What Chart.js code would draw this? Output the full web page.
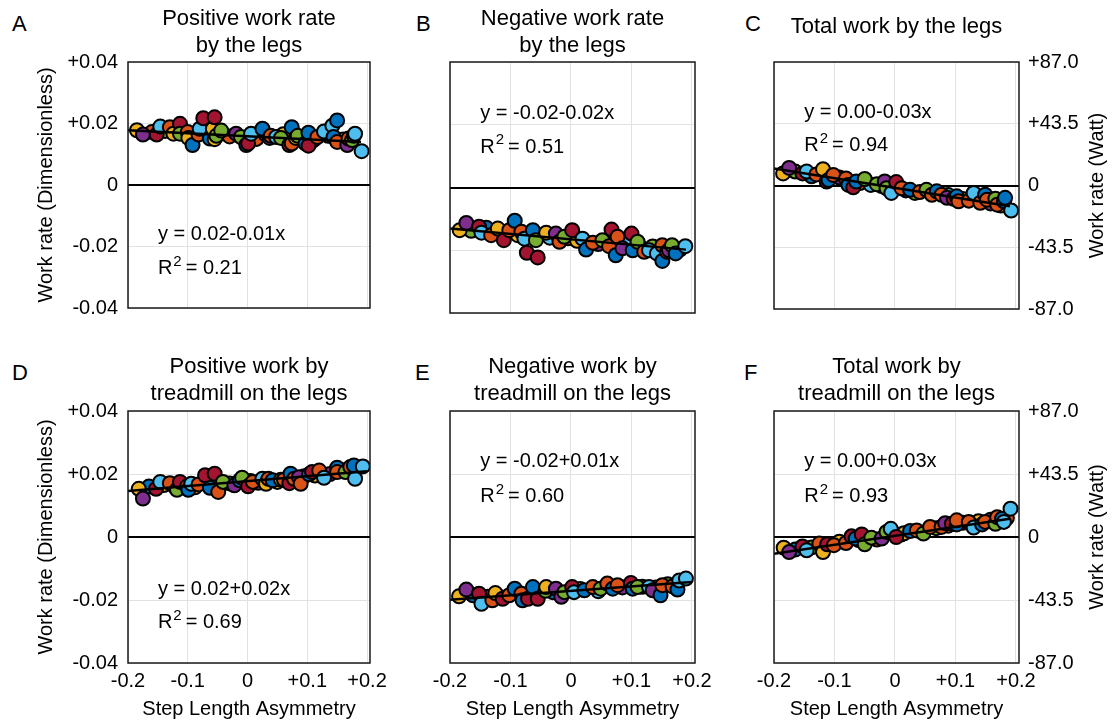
<!DOCTYPE html>
<html>
<head>
<meta charset="utf-8">
<title>Work rate vs step length asymmetry</title>
<script src="https://cdn.jsdelivr.net/npm/chart.js@4.4.1/dist/chart.umd.min.js"></script>
<style>
  body { margin: 0; width: 1112px; height: 721px; background: #fff; position: relative; overflow: hidden;
         font-family: "Liberation Sans", Arial, Helvetica, sans-serif; }
  canvas { position: absolute; }
  .tag { position: absolute; font-size: 22px; line-height: 22px; color: #000; }
</style>
</head>
<body>
<div class="tag" style="left:12px;top:13px">A</div>
<div class="tag" style="left:416px;top:13px">B</div>
<div class="tag" style="left:745px;top:13px">C</div>
<div class="tag" style="left:12px;top:362px">D</div>
<div class="tag" style="left:415px;top:362px">E</div>
<div class="tag" style="left:744px;top:362px">F</div>

<canvas id="cA" width="400" height="330" style="left:0px;top:0px"></canvas>
<canvas id="cB" width="330" height="330" style="left:400px;top:0px"></canvas>
<canvas id="cC" width="382" height="330" style="left:730px;top:0px"></canvas>
<canvas id="cD" width="400" height="371" style="left:0px;top:350px"></canvas>
<canvas id="cE" width="330" height="371" style="left:400px;top:350px"></canvas>
<canvas id="cF" width="382" height="371" style="left:730px;top:350px"></canvas>

<script>
// subject colours (MATLAB default order)
const palette = ['#0072BD', '#D95319', '#EDB120', '#7E2F8E', '#77AC30', '#4DBEEE', '#A2142F'];

const xTicks = [-0.2, -0.1, 0, 0.1, 0.2];
const yTicks = [-0.04, -0.02, 0, 0.02, 0.04];
const wattTicks = [-87, -43.5, 0, 43.5, 87];

// [step length asymmetry, work rate (dimensionless), subject]
const ptsA = [
  [-0.160, 0.0172, 1], [-0.138, 0.0176, 4], [-0.120, 0.0181, 3], [-0.090, 0.0158, 4], [-0.070, 0.0173, 5],
  [-0.046, 0.0166, 3], [-0.030, 0.0158, 1], [0.015, 0.0150, 1], [0.030, 0.0165, 4], [0.060, 0.0165, 2],
  [0.090, 0.0150, 5], [0.110, 0.0145, 3], [0.135, 0.0160, 1], [0.160, 0.0148, 2],
  [-0.185, 0.0178, 2], [-0.175, 0.0164, 3], [-0.152, 0.0164, 6], [-0.146, 0.0190, 5], [-0.130, 0.0188, 1],
  [-0.124, 0.0167, 2], [-0.113, 0.0199, 6], [-0.113, 0.0167, 4], [-0.100, 0.0172, 1], [-0.099, 0.0153, 2],
  [-0.092, 0.0130, 0], [-0.082, 0.0164, 1], [-0.080, 0.0183, 5], [-0.063, 0.0151, 0], [-0.058, 0.0183, 2],
  [-0.055, 0.0149, 2], [-0.052, 0.0160, 4], [-0.044, 0.0177, 4], [-0.074, 0.0217, 6], [-0.055, 0.0220, 6],
  [-0.019, 0.0167, 3], [-0.011, 0.0156, 4], [-0.002, 0.0130, 0], [0.001, 0.0135, 6], [0.006, 0.0167, 5],
  [0.025, 0.0183, 0], [0.037, 0.0153, 3], [0.039, 0.0160, 1], [0.048, 0.0156, 5], [0.056, 0.0153, 4],
  [0.070, 0.0130, 6], [0.074, 0.0188, 0], [0.074, 0.0135, 1], [0.081, 0.0153, 2], [0.084, 0.0160, 4],
  [0.097, 0.0135, 0], [0.102, 0.0170, 0], [0.102, 0.0128, 6], [0.117, 0.0156, 1], [0.128, 0.0174, 5],
  [0.142, 0.0193, 5], [0.144, 0.0156, 0], [0.150, 0.0210, 0], [0.150, 0.0140, 1], [0.167, 0.0130, 3],
  [0.169, 0.0151, 1], [0.175, 0.0146, 4], [0.178, 0.0160, 0], [0.180, 0.0167, 5], [0.191, 0.0110, 5]
];
const ptsB = [
  [-0.165, -0.0138, 4], [-0.140, -0.0128, 0], [-0.118, -0.0147, 3], [-0.088, -0.0152, 2], [-0.068, -0.0150, 1],
  [-0.035, -0.0160, 5], [-0.005, -0.0162, 1], [0.010, -0.0170, 2], [0.045, -0.0180, 3], [0.090, -0.0175, 5],
  [0.115, -0.0190, 2], [0.135, -0.0188, 4], [0.180, -0.0198, 1],
  [-0.184, -0.0136, 2], [-0.173, -0.0113, 3], [-0.152, -0.0125, 6], [-0.148, -0.0144, 5], [-0.132, -0.0152, 1],
  [-0.121, -0.0131, 2], [-0.111, -0.0168, 6], [-0.102, -0.0136, 1], [-0.093, -0.0106, 0], [-0.082, -0.0141, 1],
  [-0.077, -0.0163, 5], [-0.063, -0.0136, 0], [-0.058, -0.0168, 4], [-0.073, -0.0208, 6], [-0.055, -0.0223, 6],
  [-0.041, -0.0144, 2], [-0.025, -0.0147, 3], [-0.019, -0.0173, 1], [-0.011, -0.0157, 4], [0.002, -0.0136, 6],
  [0.019, -0.0163, 5], [0.025, -0.0198, 0], [0.036, -0.0176, 1], [0.052, -0.0168, 4], [0.063, -0.0187, 1],
  [0.067, -0.0134, 6], [0.074, -0.0216, 0], [0.077, -0.0157, 1], [0.085, -0.0194, 3], [0.100, -0.0147, 6],
  [0.102, -0.0200, 0], [0.110, -0.0173, 4], [0.121, -0.0205, 1], [0.129, -0.0200, 5], [0.142, -0.0210, 5],
  [0.151, -0.0234, 0], [0.151, -0.0184, 1], [0.159, -0.0205, 1], [0.162, -0.0200, 3], [0.167, -0.0184, 4],
  [0.173, -0.0210, 0], [0.189, -0.0187, 5]
];
const ptsC = [
  [-0.165, 0.0045, 4], [-0.138, 0.0030, 0], [-0.092, 0.0026, 3], [-0.058, 0.0008, 1], [-0.040, 0.0002, 5],
  [-0.022, -0.0002, 1], [0.018, -0.0016, 3], [0.033, -0.0024, 4], [0.088, -0.0031, 5], [0.112, -0.0044, 2],
  [0.134, -0.0041, 0], [0.158, -0.0058, 3], [0.175, -0.0065, 2],
  [-0.185, 0.0039, 2], [-0.175, 0.0057, 3], [-0.153, 0.0039, 6], [-0.146, 0.0045, 5], [-0.130, 0.0036, 1],
  [-0.119, 0.0053, 2], [-0.113, 0.0013, 6], [-0.110, 0.0018, 0], [-0.102, 0.0034, 1], [-0.081, 0.0023, 1],
  [-0.077, 0.0002, 0], [-0.069, -0.0006, 6], [-0.064, 0.0013, 0], [-0.050, 0.0021, 4], [-0.030, 0.0004, 4],
  [-0.017, 0.0013, 3], [-0.014, -0.0009, 4], [-0.006, -0.0024, 5], [0.002, 0.0011, 6], [0.011, -0.0009, 1],
  [0.025, -0.0014, 0], [0.041, -0.0021, 1], [0.052, -0.0014, 4], [0.061, -0.0030, 1], [0.069, -0.0019, 0],
  [0.077, -0.0030, 1], [0.086, -0.0040, 3], [0.097, -0.0043, 6], [0.102, -0.0035, 0], [0.105, -0.0051, 1],
  [0.122, -0.0049, 1], [0.130, -0.0024, 5], [0.141, -0.0056, 1], [0.149, -0.0030, 0], [0.152, -0.0046, 1],
  [0.166, -0.0043, 4], [0.169, -0.0062, 1], [0.180, -0.0051, 0], [0.182, -0.0040, 0], [0.192, -0.0081, 5]
];
const ptsD = [
  [-0.165, 0.0160, 0], [-0.140, 0.0165, 2], [-0.122, 0.0160, 3], [-0.088, 0.0158, 2], [-0.075, 0.0172, 1],
  [-0.030, 0.0170, 5], [0.005, 0.0178, 4], [0.018, 0.0172, 3], [0.050, 0.0175, 2], [0.095, 0.0193, 4],
  [0.113, 0.0195, 2], [0.138, 0.0200, 3], [0.160, 0.0212, 5],
  [-0.182, 0.0153, 2], [-0.175, 0.0122, 3], [-0.153, 0.0153, 6], [-0.146, 0.0175, 5], [-0.130, 0.0171, 1],
  [-0.118, 0.0150, 4], [-0.113, 0.0175, 6], [-0.101, 0.0161, 1], [-0.099, 0.0150, 0], [-0.094, 0.0169, 5],
  [-0.082, 0.0167, 1], [-0.063, 0.0156, 0], [-0.071, 0.0196, 6], [-0.055, 0.0201, 6], [-0.049, 0.0143, 1],
  [-0.041, 0.0175, 4], [-0.022, 0.0164, 3], [-0.013, 0.0180, 0], [-0.009, 0.0188, 4], [0.001, 0.0161, 6],
  [0.009, 0.0175, 1], [0.025, 0.0185, 5], [0.031, 0.0169, 2], [0.035, 0.0185, 1], [0.042, 0.0180, 0],
  [0.056, 0.0182, 4], [0.061, 0.0182, 1], [0.070, 0.0171, 6], [0.072, 0.0201, 0], [0.078, 0.0185, 1],
  [0.086, 0.0190, 3], [0.089, 0.0169, 1], [0.103, 0.0199, 0], [0.108, 0.0206, 6], [0.120, 0.0211, 1],
  [0.128, 0.0188, 5], [0.150, 0.0220, 0], [0.150, 0.0206, 1], [0.164, 0.0206, 4], [0.172, 0.0222, 1],
  [0.178, 0.0227, 0], [0.180, 0.0185, 5], [0.193, 0.0224, 5]
];
const ptsE = [
  [-0.162, -0.0185, 0], [-0.138, -0.0190, 3], [-0.120, -0.0188, 4], [-0.088, -0.0175, 5], [-0.060, -0.0178, 1],
  [-0.030, -0.0175, 0], [-0.002, -0.0170, 1], [0.015, -0.0165, 2], [0.045, -0.0172, 5], [0.085, -0.0160, 3],
  [0.118, -0.0158, 1], [0.140, -0.0160, 2], [0.160, -0.0150, 4],
  [-0.185, -0.0188, 2], [-0.173, -0.0167, 3], [-0.152, -0.0180, 6], [-0.148, -0.0212, 5], [-0.130, -0.0201, 1],
  [-0.125, -0.0178, 2], [-0.113, -0.0196, 6], [-0.102, -0.0185, 1], [-0.093, -0.0164, 0], [-0.082, -0.0180, 1],
  [-0.080, -0.0201, 0], [-0.071, -0.0196, 6], [-0.063, -0.0159, 0], [-0.055, -0.0196, 6], [-0.042, -0.0171, 4],
  [-0.041, -0.0159, 2], [-0.025, -0.0164, 3], [-0.016, -0.0190, 3], [-0.011, -0.0175, 4], [0.002, -0.0159, 6],
  [0.005, -0.0175, 5], [0.022, -0.0169, 0], [0.036, -0.0159, 1], [0.049, -0.0164, 4], [0.060, -0.0148, 1],
  [0.069, -0.0164, 0], [0.077, -0.0153, 1], [0.099, -0.0146, 6], [0.102, -0.0164, 0], [0.110, -0.0159, 4],
  [0.129, -0.0159, 5], [0.135, -0.0169, 3], [0.148, -0.0185, 0], [0.151, -0.0153, 1], [0.168, -0.0157, 1],
  [0.176, -0.0167, 0], [0.179, -0.0138, 5], [0.190, -0.0132, 5]
];
const ptsF = [
  [-0.165, -0.0040, 0], [-0.138, -0.0033, 4], [-0.092, -0.0015, 2], [-0.060, -0.0010, 1], [-0.030, -0.0008, 1],
  [0.010, 0.0008, 3], [0.015, 0.0012, 2], [0.068, 0.0028, 4], [0.088, 0.0036, 2], [0.112, 0.0045, 3],
  [0.138, 0.0050, 2], [0.158, 0.0055, 3], [0.185, 0.0060, 1],
  [-0.184, -0.0034, 2], [-0.175, -0.0048, 3], [-0.153, -0.0030, 6], [-0.146, -0.0042, 5], [-0.125, -0.0021, 1],
  [-0.119, -0.0048, 2], [-0.112, -0.0023, 6], [-0.101, -0.0026, 1], [-0.081, -0.0019, 1], [-0.072, 0.0002, 6],
  [-0.065, -0.0005, 0], [-0.055, 0.0008, 6], [-0.050, -0.0023, 4], [-0.039, -0.0002, 4], [-0.022, -0.0005, 3],
  [-0.014, 0.0016, 4], [-0.007, 0.0026, 5], [0.002, 0.0000, 6], [0.025, 0.0019, 0], [0.036, 0.0021, 1],
  [0.047, 0.0011, 4], [0.058, 0.0032, 1], [0.077, 0.0032, 1], [0.083, 0.0044, 3], [0.094, 0.0042, 6],
  [0.102, 0.0040, 0], [0.102, 0.0053, 1], [0.122, 0.0048, 1], [0.130, 0.0030, 5], [0.144, 0.0040, 0],
  [0.149, 0.0048, 1], [0.166, 0.0042, 4], [0.169, 0.0063, 1], [0.177, 0.0058, 0], [0.180, 0.0048, 5],
  [0.191, 0.0090, 5]
];

// regression line end points
const fitA = [[-0.2, 0.0178], [0.19, 0.0140]];
const fitB = [[-0.2, -0.0131], [0.19, -0.0198]];
const fitC = [[-0.2, 0.0055], [0.19, -0.0067]];
const fitD = [[-0.2, 0.0146], [0.2, 0.0209]];
const fitE = [[-0.2, -0.0199], [0.2, -0.0143]];
const fitF = [[-0.2, -0.0053], [0.19, 0.0058]];

const titles = [
  ['Positive work rate', 'by the legs'], ['Negative work rate', 'by the legs'], ['Total work by the legs'],
  ['Positive work by', 'treadmill on the legs'], ['Negative work by', 'treadmill on the legs'], ['Total work by', 'treadmill on the legs']
];
const equations = ['y = 0.02-0.01x', 'y = -0.02-0.02x', 'y = 0.00-0.03x', 'y = 0.02+0.02x', 'y = -0.02+0.01x', 'y = 0.00+0.03x'];
const rSquared = ['0.21', '0.51', '0.94', '0.69', '0.60', '0.93'];

const FAMILY = '"Liberation Sans", Arial, Helvetica, sans-serif';
Chart.defaults.font.family = FAMILY;
Chart.defaults.color = '#000';

function signed(v, d) {
  if (Math.abs(v) < 1e-12) return '0';
  return (v > 0 ? '+' : '') + v.toFixed(d);
}

Chart.register({
  id: 'frame',
  afterDatasetsDraw(chart) {
    const { ctx, chartArea: a } = chart;
    ctx.save();
    ctx.strokeStyle = '#1a1a1a';
    ctx.lineWidth = 1.5;
    ctx.strokeRect(a.left, a.top, a.right - a.left, a.bottom - a.top);
    ctx.restore();
  }
});

Chart.register({
  id: 'eqLabel',
  afterDatasetsDraw(chart, args, opts) {
    if (!opts.eq) return;
    const { ctx } = chart;
    const x = chart.scales.x, y = chart.scales.y;
    const px = x.getPixelForValue(opts.at[0]);
    const py1 = y.getPixelForValue(opts.at[1]);
    const py2 = y.getPixelForValue(opts.at[2]);
    ctx.save();
    ctx.fillStyle = '#000';
    ctx.textBaseline = 'middle';
    ctx.textAlign = 'left';
    ctx.font = '20px ' + FAMILY;
    ctx.fillText(opts.eq, px, py1);
    ctx.fillText('R', px, py2);
    const wR = ctx.measureText('R').width;
    ctx.font = '15px ' + FAMILY;
    ctx.fillText('2', px + wR + 1, py2 - 7);
    const w2 = ctx.measureText('2').width;
    ctx.font = '20px ' + FAMILY;
    ctx.fillText('= ' + opts.r2, px + wR + w2 + 5, py2);
    ctx.restore();
  }
});

Chart.register({
  id: 'rightTitle',
  afterDraw(chart, args, opts) {
    if (!opts.text) return;
    const s = chart.scales.y2;
    const { ctx } = chart;
    ctx.save();
    ctx.translate(s.right - 15, (s.top + s.bottom) / 2);
    ctx.rotate(-Math.PI / 2);
    ctx.fillStyle = '#000';
    ctx.font = '20px ' + FAMILY;
    ctx.textAlign = 'center';
    ctx.textBaseline = 'middle';
    ctx.fillText(opts.text, 0, 0);
    ctx.restore();
  }
});

function makePanel(id, o) {
  const gridColor = c => (c.tick && c.tick.value === 0) ? '#000' : '#e2e2e2';
  const gridWidth = c => (c.tick && c.tick.value === 0) ? 2 : 1;
  const scales = {
    x: {
      type: 'linear', min: -0.2, max: 0.205,
      afterBuildTicks: s => { s.ticks = xTicks.map(v => ({ value: v })); },
      afterFit: s => { s.height = o.bottom ? 58 : 17; },
      grid: { color: '#e2e2e2', lineWidth: 1, drawTicks: false },
      border: { display: false },
      ticks: { display: o.bottom, padding: 6, font: { size: 20 }, callback: v => signed(v, 1) },
      title: { display: o.bottom, text: 'Step Length Asymmetry', font: { size: 20 }, padding: { top: 0, bottom: 0 } }
    },
    y: {
      type: 'linear', min: -0.04, max: 0.04, position: 'left',
      afterBuildTicks: s => { s.ticks = yTicks.map(v => ({ value: v })); },
      afterFit: s => { s.width = o.leftW; },
      grid: { color: gridColor, lineWidth: gridWidth, drawTicks: false },
      border: { display: false },
      ticks: { display: o.col === 0, padding: 10, font: { size: 20 }, callback: v => signed(v, 2) },
      title: { display: o.col === 0, text: 'Work rate (Dimensionless)', font: { size: 20 }, padding: { top: 34, bottom: 0 } }
    }
  };
  if (o.col === 2) {
    scales.y2 = {
      type: 'linear', min: -87, max: 87, position: 'right',
      afterBuildTicks: s => { s.ticks = wattTicks.map(v => ({ value: v })); },
      afterFit: s => { s.width = 93; },
      grid: { drawOnChartArea: false, drawTicks: false },
      border: { display: false },
      ticks: { padding: 9, font: { size: 20 }, callback: v => signed(v, 1) }
    };
  }
  let titlePad = o.bottom ? { top: 3.5, bottom: 3.5 } : { top: 5.5, bottom: 2.5 };
  if (o.title.length === 1) titlePad = { top: 13.5, bottom: 21.5 };
  return new Chart(document.getElementById(id), {
    type: 'scatter',
    data: {
      datasets: [
        {
          data: o.fit.map(p => ({ x: p[0], y: p[1] })),
          showLine: true, borderColor: '#000', borderWidth: 2.5, pointRadius: 0, yAxisID: 'y'
        },
        {
          data: o.pts.map(p => ({ x: p[0], y: p[1] })),
          backgroundColor: o.pts.map(p => palette[p[2]]),
          borderColor: '#000', borderWidth: 2, pointRadius: 7, yAxisID: 'y'
        }
      ]
    },
    options: {
      responsive: false, animation: false, devicePixelRatio: 1, events: [],
      layout: { padding: { left: 0, right: o.padRight, top: 0, bottom: 0 } },
      plugins: {
        legend: { display: false },
        tooltip: { enabled: false },
        title: {
          display: true, text: o.title, fullSize: false, color: '#000',
          font: { size: 22, weight: 'normal', lineHeight: '27px' },
          padding: titlePad
        },
        eqLabel: { eq: o.eq, r2: o.r2, at: o.at },
        rightTitle: { text: o.col === 2 ? 'Work rate (Watt)' : '' }
      },
      scales
    }
  });
}

makePanel('cA', { col: 0, bottom: false, leftW: 128, padRight: 30, pts: ptsA, fit: fitA, title: titles[0], eq: equations[0], r2: rSquared[0], at: [-0.15, -0.0161, -0.0272] });
makePanel('cB', { col: 1, bottom: false, leftW: 50, padRight: 35, pts: ptsB, fit: fitB, title: titles[1], eq: equations[1], r2: rSquared[1], at: [-0.15, 0.0237, 0.0128] });
makePanel('cC', { col: 2, bottom: false, leftW: 44, padRight: 0, pts: ptsC, fit: fitC, title: titles[2], eq: equations[2], r2: rSquared[2], at: [-0.15, 0.0237, 0.0128] });
makePanel('cD', { col: 0, bottom: true, leftW: 128, padRight: 30, pts: ptsD, fit: fitD, title: titles[3], eq: equations[3], r2: rSquared[3], at: [-0.15, -0.0168, -0.0272] });
makePanel('cE', { col: 1, bottom: true, leftW: 50, padRight: 35, pts: ptsE, fit: fitE, title: titles[4], eq: equations[4], r2: rSquared[4], at: [-0.15, 0.0239, 0.0128] });
makePanel('cF', { col: 2, bottom: true, leftW: 44, padRight: 0, pts: ptsF, fit: fitF, title: titles[5], eq: equations[5], r2: rSquared[5], at: [-0.15, 0.0239, 0.0128] });
</script>
</body>
</html>
